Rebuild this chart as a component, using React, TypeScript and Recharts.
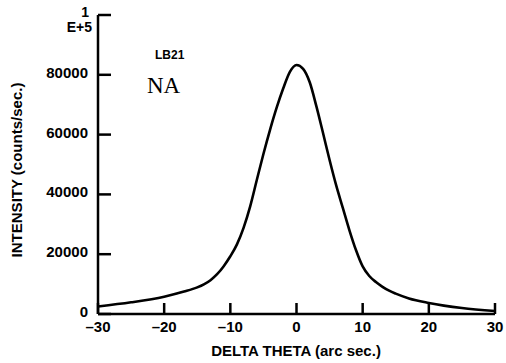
import { LineChart, Line, XAxis, YAxis } from "recharts";

// delta theta (arc sec.) and intensity (counts/sec.)
const deltaTheta = [-30, -25, -20, -17, -15, -14, -13, -12, -11, -10, -9, -8, -7, -6, -5, -4, -3, -2, -1, 0, 1, 2, 3, 4, 5, 6, 7, 8, 9, 10, 11, 12, 13, 14, 15, 17, 20, 25, 30];
const intensity = [2500, 3900, 5800, 7500, 8900, 9900, 11300, 13300, 16000, 19300, 23300, 28800, 36000, 44800, 53500, 61600, 69000, 75500, 81000, 83300, 82000, 77500, 69500, 60600, 51500, 43000, 35500, 28000, 21300, 15900, 12700, 10700, 9100, 7800, 6800, 5200, 3700, 2000, 1000];

const xTicks = [-30, -20, -10, 0, 10, 20, 30];
const yTicks = [0, 20000, 40000, 60000, 80000, 100000];

const sampleName = "LB21";
const sampleTag = "NA";

const FONT = "'Liberation Sans', Arial, sans-serif";
const INK = "#000";

const XTick = ({ x, y, payload }: any) => {
    const v = payload.value as number;
    const label = v < 0 ? `–${Math.abs(v)}` : `${v}`;
    return (
        <g>
            <line x1={x} x2={x} y1={y} y2={y - 11} stroke={INK} strokeWidth={2.5} />
            <text x={x} y={y + 18} textAnchor="middle" fontFamily={FONT} fontWeight={700} fontSize={15} fill={INK}>
                {label}
            </text>
        </g>
    );
};

const YTick = ({ x, y, payload }: any) => {
    const v = payload.value as number;
    return (
        <g>
            <line x1={x} x2={x + 13} y1={y} y2={y} stroke={INK} strokeWidth={2.5} />
            {v === 100000 ? (
                <text fontFamily={FONT} fontWeight={700} fontSize={14} fill={INK} textAnchor="end">
                    <tspan x={x - 9} y={y + 2}>1</tspan>
                    <tspan x={x - 6} y={y + 17}>E+5</tspan>
                </text>
            ) : (
                <text x={x - 10} y={y + 3} textAnchor="end" fontFamily={FONT} fontWeight={700} fontSize={15} fill={INK}>
                    {v}
                </text>
            )}
        </g>
    );
};

export default function App() {
    const data = deltaTheta.map((d, i) => ({ d, v: intensity[i] }));

    return (
        <div style={{ position: "absolute", left: 0, top: 0, width: 506, height: 363, background: "#fff" }}>
            <LineChart width={506} height={363} data={data} margin={{ top: 15, right: 11, left: 0, bottom: 0 }}>
                <XAxis
                    dataKey="d"
                    type="number"
                    domain={[-30, 30]}
                    ticks={xTicks}
                    height={49}
                    tickSize={0}
                    tickMargin={0}
                    tickLine={false}
                    tick={<XTick />}
                    axisLine={{ stroke: INK, strokeWidth: 2.5 }}
                    interval={0}
                />
                <YAxis
                    type="number"
                    domain={[0, 100000]}
                    ticks={yTicks}
                    width={98}
                    tickSize={0}
                    tickMargin={0}
                    tickLine={false}
                    tick={<YTick />}
                    axisLine={{ stroke: INK, strokeWidth: 2.5 }}
                    interval={0}
                />
                <Line
                    type="monotone"
                    dataKey="v"
                    stroke={INK}
                    strokeWidth={2.6}
                    dot={false}
                    isAnimationActive={false}
                />
                <text x={296} y={350} textAnchor="middle" dominantBaseline="central" fontFamily={FONT} fontWeight={700} fontSize={15} fill={INK}>
                    DELTA THETA (arc sec.)
                </text>
                <text
                    x={16}
                    y={170}
                    transform="rotate(-90 16 170)"
                    textAnchor="middle"
                    dominantBaseline="central"
                    fontFamily={FONT}
                    fontWeight={700}
                    fontSize={15}
                    fill={INK}
                >
                    INTENSITY (counts/sec.)
                </text>
                <text x={155} y={59} fontFamily={FONT} fontWeight={700} fontSize={12} fill={INK}>
                    {sampleName}
                </text>
                <text x={147} y={93} fontFamily="'Liberation Serif', 'Times New Roman', serif" fontSize={23} fill={INK}>
                    {sampleTag}
                </text>
            </LineChart>
        </div>
    );
}
